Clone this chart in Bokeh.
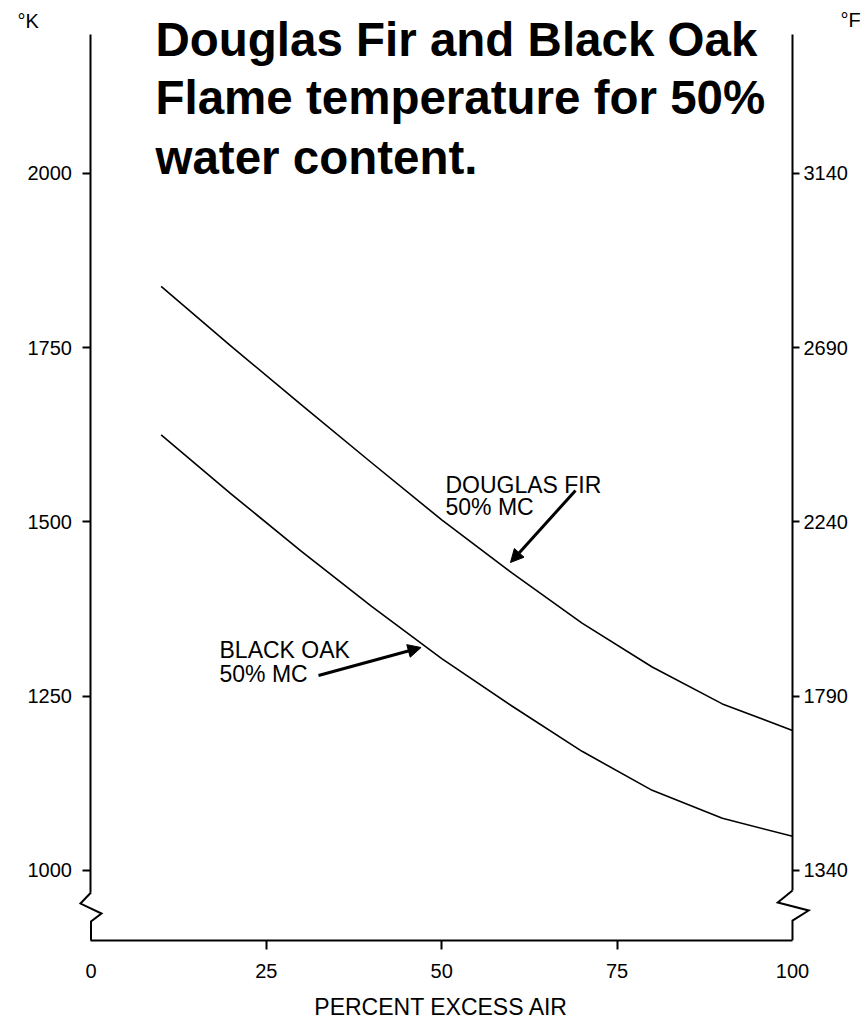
from bokeh.plotting import figure
from bokeh.models import LinearAxis, FixedTicker, Range1d, Arrow, NormalHead
from bokeh.core.properties import value
from bokeh.embed import file_html
from bokeh.resources import INLINE

# Flame temperature (K) versus percent excess air, 50% moisture content
excess_air_pct = [10, 20, 30, 40, 50, 60, 70, 80, 90, 100]
douglas_fir_k = [1838, 1752, 1668, 1585, 1503, 1427, 1355, 1292, 1239, 1201]
black_oak_k = [1625, 1540, 1458, 1379, 1304, 1236, 1171, 1115, 1075, 1049]

x_ticks = [0, 25, 50, 75, 100]
x_minor_ticks = [25, 50, 75]
k_ticks = [1000, 1250, 1500, 1750, 2000]
f_labels = ["1340", "1790", "2240", "2690", "3140"]

title_lines = ["Douglas Fir and Black Oak",
               "Flame temperature for 50%",
               "water content."]

FONT = "Liberation Sans"

p = figure(width=866, height=1031,
           x_range=Range1d(-12.90, 110.55), y_range=Range1d(769.0, 2248.2),
           x_axis_type=None, y_axis_type=None,
           toolbar_location=None, output_backend="svg", min_border=0)
p.outline_line_color = None
p.background_fill_color = "white"
p.border_fill_color = "white"


def style_axis(ax, tick_out, standoff):
    ax.axis_line_width = 2
    ax.axis_line_color = "black"
    ax.major_tick_line_width = 2
    ax.major_tick_line_color = "black"
    ax.major_tick_out = tick_out
    ax.major_tick_in = 0
    ax.minor_tick_out = 0
    ax.minor_tick_in = 0
    ax.major_label_standoff = standoff
    ax.major_label_text_font = FONT
    ax.major_label_text_font_size = "20px"
    ax.major_label_text_color = "black"


# Kelvin scale on the left spine (broken below 1000)
left = LinearAxis(fixed_location=0, bounds=(968, 2200),
                  ticker=FixedTicker(ticks=k_ticks, minor_ticks=[]))
style_axis(left, 8, 11)
p.add_layout(left, "left")

# Fahrenheit scale on the right spine
right = LinearAxis(fixed_location=100, bounds=(971, 2200),
                   ticker=FixedTicker(ticks=k_ticks, minor_ticks=[]),
                   major_label_overrides=dict(zip(k_ticks, f_labels)))
style_axis(right, 7, 4)
p.add_layout(right, "right")

# Percent excess air along the bottom
bottom = LinearAxis(fixed_location=900, bounds=(0, 100),
                    ticker=FixedTicker(ticks=x_ticks, minor_ticks=x_minor_ticks),
                    axis_label="PERCENT EXCESS AIR")
style_axis(bottom, 0, 15)
bottom.minor_tick_out = 9
bottom.minor_tick_line_width = 2
bottom.minor_tick_line_color = "black"
bottom.axis_label_text_font = FONT
bottom.axis_label_text_font_style = "normal"
bottom.axis_label_text_font_size = "23px"
bottom.axis_label_text_color = "black"
bottom.axis_label_standoff = 12
p.add_layout(bottom, "below")

# Scale-break zigzags on both spines
p.line([0, -1.5, 1.5, 0, 0], [968.4, 952.6, 938.3, 926.8, 900],
       line_color="black", line_width=2, line_join="miter")
p.line([100, 97.9, 102.3, 100, 100], [971.3, 954.1, 942.6, 928.2, 900],
       line_color="black", line_width=2, line_join="miter")

# Curves
p.line(excess_air_pct, douglas_fir_k, line_color="black", line_width=1.6,
       line_join="round")
p.line(excess_air_pct, black_oak_k, line_color="black", line_width=1.6,
       line_join="round")

# Curve callouts
p.text(x=[50.53, 50.53], y=[1553.4, 1521.8], text=["DOUGLAS FIR", "50% MC"],
       text_font=value(FONT), text_font_size="23px", text_color="black",
       text_align="left", text_baseline="alphabetic")
p.text(x=[18.32, 18.32], y=[1316.7, 1282.2], text=["BLACK OAK", "50% MC"],
       text_font=value(FONT), text_font_size="23px", text_color="black",
       text_align="left", text_baseline="alphabetic")

head = dict(size=13, fill_color="black", line_color="black")
p.add_layout(Arrow(end=NormalHead(**head), x_start=69.07, y_start=1545.2,
                   x_end=59.80, y_end=1441.9, line_width=3, line_color="black"))
p.add_layout(Arrow(end=NormalHead(**head), x_start=32.43, y_start=1279.8,
                   x_end=47.05, y_end=1319.9, line_width=3, line_color="black"))

# Unit captions above the spines
p.text(x=[-10.48, 106.84], y=[2218.9, 2220.4], text=["°K", "°F"],
       text_font=value(FONT), text_font_size="20px", text_color="black",
       text_align="left", text_baseline="alphabetic")

# Title
p.text(x=[9.19, 9.19, 9.19], y=[2192.2, 2109.0, 2022.9], text=title_lines,
       text_font=value(FONT), text_font_size="47.5px", text_font_style="bold",
       text_color="black", text_align="left", text_baseline="alphabetic")

open("out.html", "w").write(file_html(p, INLINE))
